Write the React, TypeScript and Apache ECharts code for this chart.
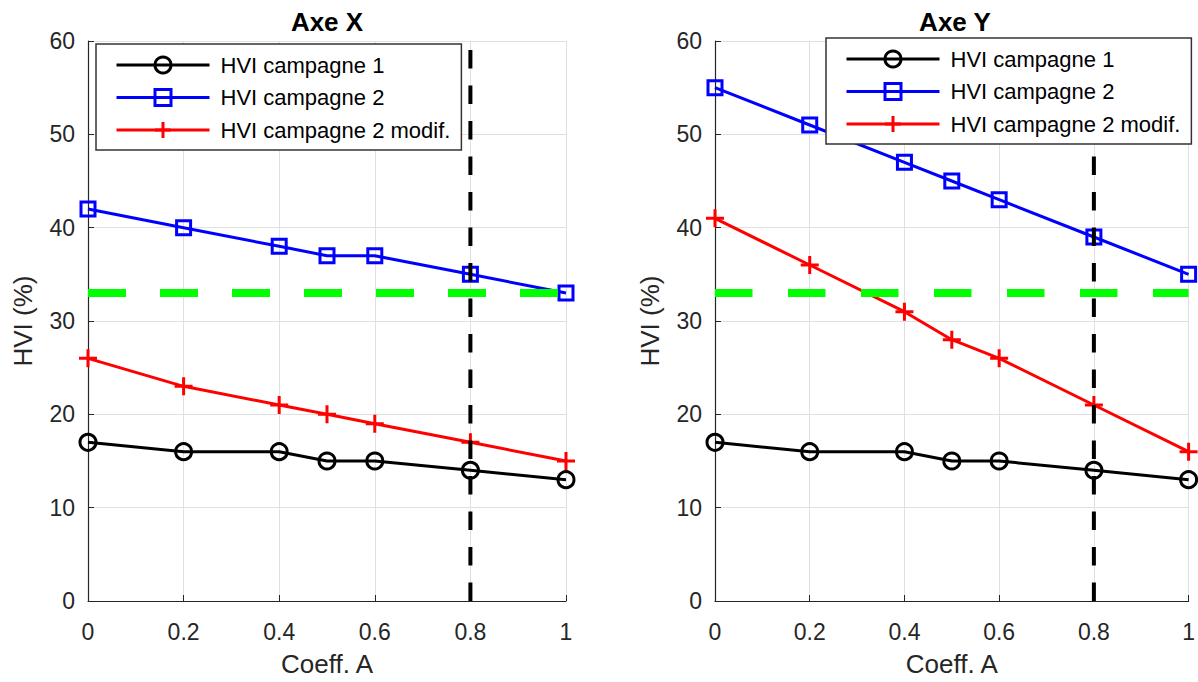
import React, { useEffect, useRef } from "react";
import * as echarts from "echarts";

// ---- Data ----
const coeffA = [0, 0.2, 0.4, 0.5, 0.6, 0.8, 1];
const axeX_campagne1 = [17, 16, 16, 15, 15, 14, 13];
const axeX_campagne2 = [42, 40, 38, 37, 37, 35, 33];
const axeX_campagne2modif = [26, 23, 21, 20, 19, 17, 15];
const axeY_campagne1 = [17, 16, 16, 15, 15, 14, 13];
const axeY_campagne2 = [55, 51, 47, 45, 43, 39, 35];
const axeY_campagne2modif = [41, 36, 31, 28, 26, 21, 16];
const seuilHVI = 33; // green dashed threshold
const coeffRef = 0.8; // black dashed vertical
const xRange = [0, 1];
const xInterval = 0.2;
const yRange = [0, 60];
const yInterval = 10;
const titles = ["Axe X", "Axe Y"];
const seriesNames = ["HVI campagne 1", "HVI campagne 2", "HVI campagne 2 modif."];

const FONT = "'Liberation Sans', Arial, Helvetica, sans-serif";
const AXIS_COLOR = "#262626";
const PLUS = "path://M10,0 L10,20 M0,10 L20,10";

function pairs(xs: number[], ys: number[]) {
  return xs.map((x, i) => [x, ys[i]]);
}

function mkSeries(name: string, ys: number[], color: string, symbol: string, size: number, idx: number) {
  return {
    type: "line",
    name,
    xAxisIndex: idx,
    yAxisIndex: idx,
    data: pairs(coeffA, ys),
    symbol,
    symbolSize: size,
    showAllSymbol: true,
    clip: false,
    lineStyle: { color, width: 3 },
    itemStyle: { color: "transparent", borderColor: color, borderWidth: 3 },
    emphasis: { disabled: true },
    z: 2,
  };
}

function refSeries(idx: number, dash: number[]) {
  return [
    {
      type: "line",
      name: "seuil",
      xAxisIndex: idx,
      yAxisIndex: idx,
      data: [
        [xRange[0], seuilHVI],
        [xRange[1], seuilHVI],
      ],
      symbol: "none",
      clip: false,
      lineStyle: { color: "#00ff00", width: 8, type: dash, cap: "butt" },
      emphasis: { disabled: true },
      z: 3,
    },
    {
      type: "line",
      name: "coeffRef",
      xAxisIndex: idx,
      yAxisIndex: idx,
      data: [
        [coeffRef, yRange[0]],
        [coeffRef, yRange[1]],
      ],
      symbol: "none",
      clip: false,
      lineStyle: { color: "#000", width: 4, type: [18.5, 17], cap: "butt" },
      emphasis: { disabled: true },
      z: 3,
    },
  ];
}

function mkXAxis(idx: number) {
  return {
    type: "value",
    gridIndex: idx,
    min: xRange[0],
    max: xRange[1],
    interval: xInterval,
    name: "Coeff. A",
    nameLocation: "middle",
    nameGap: 50,
    nameTextStyle: { fontSize: 26, color: AXIS_COLOR, fontFamily: FONT },
    axisLine: { show: true, onZero: false, lineStyle: { color: AXIS_COLOR, width: 1.2 } },
    axisTick: { show: true, inside: true, length: 6, lineStyle: { color: AXIS_COLOR } },
    axisLabel: { fontSize: 23, color: AXIS_COLOR, fontFamily: FONT, margin: 19 },
    splitLine: { show: true, lineStyle: { color: "#e0e0e0", width: 1 } },
  };
}

function mkYAxis(idx: number) {
  return {
    type: "value",
    gridIndex: idx,
    min: yRange[0],
    max: yRange[1],
    interval: yInterval,
    name: "HVI (%)",
    nameLocation: "middle",
    nameGap: 52,
    nameTextStyle: { fontSize: 26, color: AXIS_COLOR, fontFamily: FONT },
    axisLine: { show: true, onZero: false, lineStyle: { color: AXIS_COLOR, width: 1.2 } },
    axisTick: { show: true, inside: true, length: 6, lineStyle: { color: AXIS_COLOR } },
    axisLabel: { fontSize: 23, color: AXIS_COLOR, fontFamily: FONT, margin: 13 },
    splitLine: { show: true, lineStyle: { color: "#e0e0e0", width: 1 } },
  };
}

function mkLegend(left: number, top: number) {
  return {
    orient: "vertical",
    left,
    top,
    data: seriesNames,
    itemWidth: 93,
    itemHeight: 20,
    itemGap: 10.5,
    padding: [10, 11, 9, 19],
    backgroundColor: "#fff",
    borderColor: "#333",
    borderWidth: 1.5,
    borderRadius: 0,
    selectedMode: false,
    lineStyle: { width: 3 },
    itemStyle: { borderWidth: 3 },
    textStyle: { fontSize: 22, lineHeight: 20, color: "#000", fontFamily: FONT, padding: [0, 0, 0, 6] },
  };
}

export default function App() {
  const ref = useRef<HTMLDivElement>(null);
  useEffect(() => {
    if (!ref.current) return;
    const chart = echarts.init(ref.current, null, { renderer: "svg" });
    const grids = [
      { left: 88, top: 41, width: 478, height: 563 },
      { left: 715, top: 41, width: 480, height: 563 },
    ];
    const option: any = {
      animation: false,
      backgroundColor: "#fff",
      grid: grids,
      xAxis: [mkXAxis(0), mkXAxis(1)],
      yAxis: [mkYAxis(0), mkYAxis(1)],
      legend: [mkLegend(96, 44), mkLegend(826, 38)],
      graphic: titles.map((t, i) => ({
        type: "text",
        x: grids[i].left + grids[i].width / 2,
        y: 22,
        z: 10,
        style: {
          text: t,
          font: `bold 26px ${FONT}`,
          fill: "#000",
          align: "center",
          verticalAlign: "middle",
          textAlign: "center",
          textVerticalAlign: "middle",
        },
      })),
      series: [
        mkSeries(seriesNames[0], axeX_campagne1, "#000000", "circle", 16, 0),
        mkSeries(seriesNames[1], axeX_campagne2, "#0000ff", "rect", 14, 0),
        mkSeries(seriesNames[2], axeX_campagne2modif, "#ff0000", PLUS, 18, 0),
        ...refSeries(0, [38, 34]),
        mkSeries(seriesNames[0], axeY_campagne1, "#000000", "circle", 16, 1),
        mkSeries(seriesNames[1], axeY_campagne2, "#0000ff", "rect", 14, 1),
        mkSeries(seriesNames[2], axeY_campagne2modif, "#ff0000", PLUS, 18, 1),
        ...refSeries(1, [37.5, 35.5]),
      ],
    };
    chart.setOption(option);
    return () => chart.dispose();
  }, []);
  return (
    <div
      ref={ref}
      style={{ position: "fixed", left: 0, top: 0, width: 1198, height: 682, background: "#fff" }}
    />
  );
}
